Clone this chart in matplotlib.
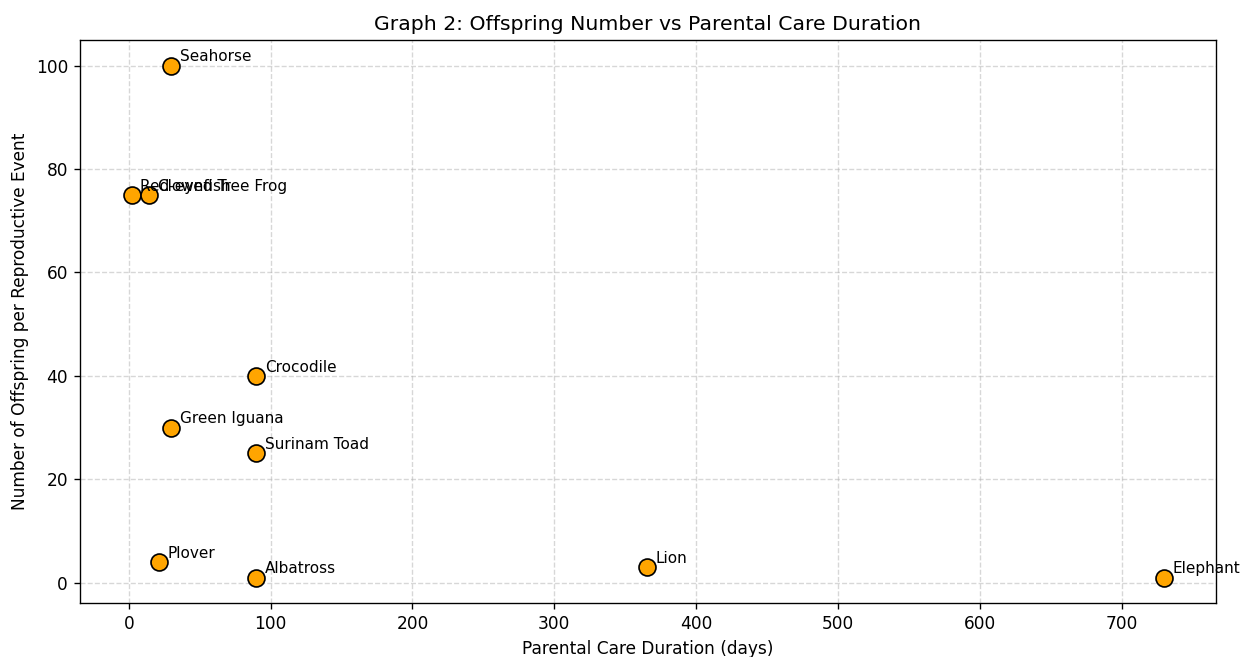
import matplotlib
matplotlib.use("Agg")
import matplotlib.pyplot as plt

species = ["Seahorse", "Red-eyed Tree Frog", "Clownfish", "Crocodile", "Green Iguana",
           "Surinam Toad", "Plover", "Albatross", "Lion", "Elephant"]
care_days = [30, 2, 14, 90, 30, 90, 21, 90, 365, 730]
offspring = [100, 75, 75, 40, 30, 25, 4, 1, 3, 1]

dpi = 122
fig, ax = plt.subplots(figsize=(1240 / dpi, 657 / dpi), dpi=dpi)
ax.scatter(care_days, offspring, s=100, color="orange", edgecolors="black", zorder=3)
for name, x, y in zip(species, care_days, offspring):
    ax.annotate(name, (x, y), textcoords="offset points", xytext=(5, 2.5), fontsize=9)
ax.set_title("Graph 2: Offspring Number vs Parental Care Duration", fontsize=12)
ax.set_xlabel("Parental Care Duration (days)")
ax.set_ylabel("Number of Offspring per Reproductive Event")
ax.grid(True, linestyle="--", alpha=0.5)
fig.subplots_adjust(left=0.0645, right=0.9806, top=0.939, bottom=0.082)
fig.savefig("out.png", dpi=dpi)
